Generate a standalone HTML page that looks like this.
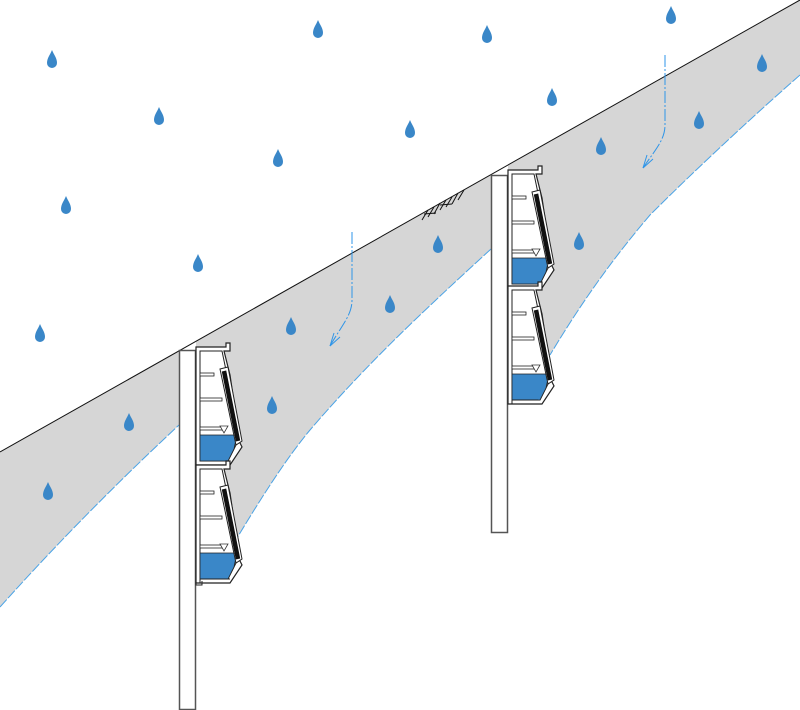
<!DOCTYPE html>
<html><head><meta charset="utf-8"><style>html,body{margin:0;padding:0;background:#fff}svg{display:block}</style></head>
<body>
<svg width="800" height="710" viewBox="0 0 800 710" xmlns="http://www.w3.org/2000/svg">
<defs>
<path id="drop" d="M0,-10 C2,-5 5,-2 5,3 A5,5 0 0 1 -5,3 C-5,-2 -2,-5 0,-10 Z" fill="#3a87c8"/>
<g id="unit">
  <path d="M0,0 H30 V-4 H34 V4 H28 L34,28 L44,96 L46,100 L34,118 H0 Z" fill="#fff" stroke="#222" stroke-width="1.2"/>
  <path d="M4,4 H26 L31,28 L41,96 L32,114 H4 Z" fill="#fff" stroke="#222" stroke-width="1"/>
  <polygon points="4,88 41,88 38,102 32,114 4,114" fill="#3a87c8" stroke="#222" stroke-width="0.8"/>
  <rect x="4" y="26" width="14" height="3" fill="#fff" stroke="#222" stroke-width="0.8"/>
  <rect x="4" y="51" width="22" height="3" fill="#fff" stroke="#222" stroke-width="0.8"/>
  <rect x="4" y="80" width="22" height="3" fill="#fff" stroke="#222" stroke-width="0.8"/>
  <path d="M24,22 L32,20 L46,94 L40,98 Z" fill="#fff" stroke="#222" stroke-width="1"/>
  <line x1="28" y1="24" x2="42" y2="94" stroke="#111" stroke-width="4.5"/>
  <polygon points="24,79 32,79 28,86" fill="#fff" stroke="#333" stroke-width="0.8"/>
</g>
</defs>
<path d="M0,452 L179,351 L179,425 C120,480 60,540 0,607 Z" fill="#d6d6d6"/>
<path d="M196,341 L491,175 L491,249 C430,305 370,360 310,430 C285,460 260,500 237,538 L196,560 Z" fill="#d6d6d6"/>
<path d="M508,165 L800,0 L800,75 C760,110 700,165 650,215 C610,262 580,305 550,355 L508,380 Z" fill="#d6d6d6"/>
<path d="M0,607 C60,540 120,480 179,425" fill="none" stroke="#4aa3e6" stroke-width="1" stroke-dasharray="10,2"/>
<path d="M491,249 C430,305 370,360 310,430 C285,460 260,500 237,538" fill="none" stroke="#4aa3e6" stroke-width="1" stroke-dasharray="10,2"/>
<path d="M800,75 C760,110 700,165 650,215 C610,262 580,305 550,355" fill="none" stroke="#4aa3e6" stroke-width="1" stroke-dasharray="10,2"/>
<line x1="0" y1="452" x2="800" y2="0" stroke="#111" stroke-width="1"/>
<g stroke="#111" stroke-width="1">
<line x1="428" y1="210" x2="422" y2="220"/><line x1="434" y1="207" x2="428" y2="217"/><line x1="440" y1="203" x2="434" y2="214"/>
<line x1="446" y1="200" x2="440" y2="210"/><line x1="452" y1="197" x2="446" y2="207"/><line x1="458" y1="193" x2="452" y2="204"/>
<line x1="464" y1="190" x2="458" y2="200"/>
<line x1="424" y1="214" x2="436" y2="213"/><line x1="440" y1="205" x2="452" y2="204"/>
</g>
<rect x="179.5" y="350.5" width="16" height="359" fill="#fff" stroke="#555" stroke-width="1.5"/>
<rect x="491.5" y="175.5" width="16" height="357" fill="#fff" stroke="#555" stroke-width="1.5"/>
<g transform="translate(196,347)"><use href="#unit"/><use href="#unit" y="118"/>
  <path d="M0,236 H4 V232 H30 L34,232 M0,236 V238 H6 V234" fill="none" stroke="#222"/>
</g>
<g transform="translate(508,170)"><use href="#unit"/><use href="#unit" y="116"/>
  <path d="M0,234 H4 V230 H30" fill="none" stroke="#222"/>
</g>
<g fill="none" stroke="#2f95e8" stroke-width="1">
<path d="M352,232 V300 C352,315 342,325 330,346" stroke-dasharray="12,2,2,2"/>
<path d="M330,346 L334,333 M330,346 L340,337"/>
<path d="M665,55 V125 C665,140 655,150 643,168" stroke-dasharray="12,2,2,2"/>
<path d="M643,168 L647,155 M643,168 L653,159"/>
</g>
<g>
<use href="#drop" x="52" y="60"/><use href="#drop" x="318" y="30"/><use href="#drop" x="487" y="35"/><use href="#drop" x="671" y="16"/>
<use href="#drop" x="159" y="117"/><use href="#drop" x="552" y="98"/><use href="#drop" x="410" y="130"/><use href="#drop" x="278" y="159"/>
<use href="#drop" x="762" y="64"/><use href="#drop" x="699" y="121"/><use href="#drop" x="601" y="147"/><use href="#drop" x="66" y="206"/>
<use href="#drop" x="198" y="264"/><use href="#drop" x="438" y="245"/><use href="#drop" x="579" y="242"/><use href="#drop" x="390" y="305"/>
<use href="#drop" x="291" y="327"/><use href="#drop" x="40" y="334"/><use href="#drop" x="272" y="406"/><use href="#drop" x="129" y="423"/>
<use href="#drop" x="48" y="492"/>
</g>
</svg>
</body></html>
